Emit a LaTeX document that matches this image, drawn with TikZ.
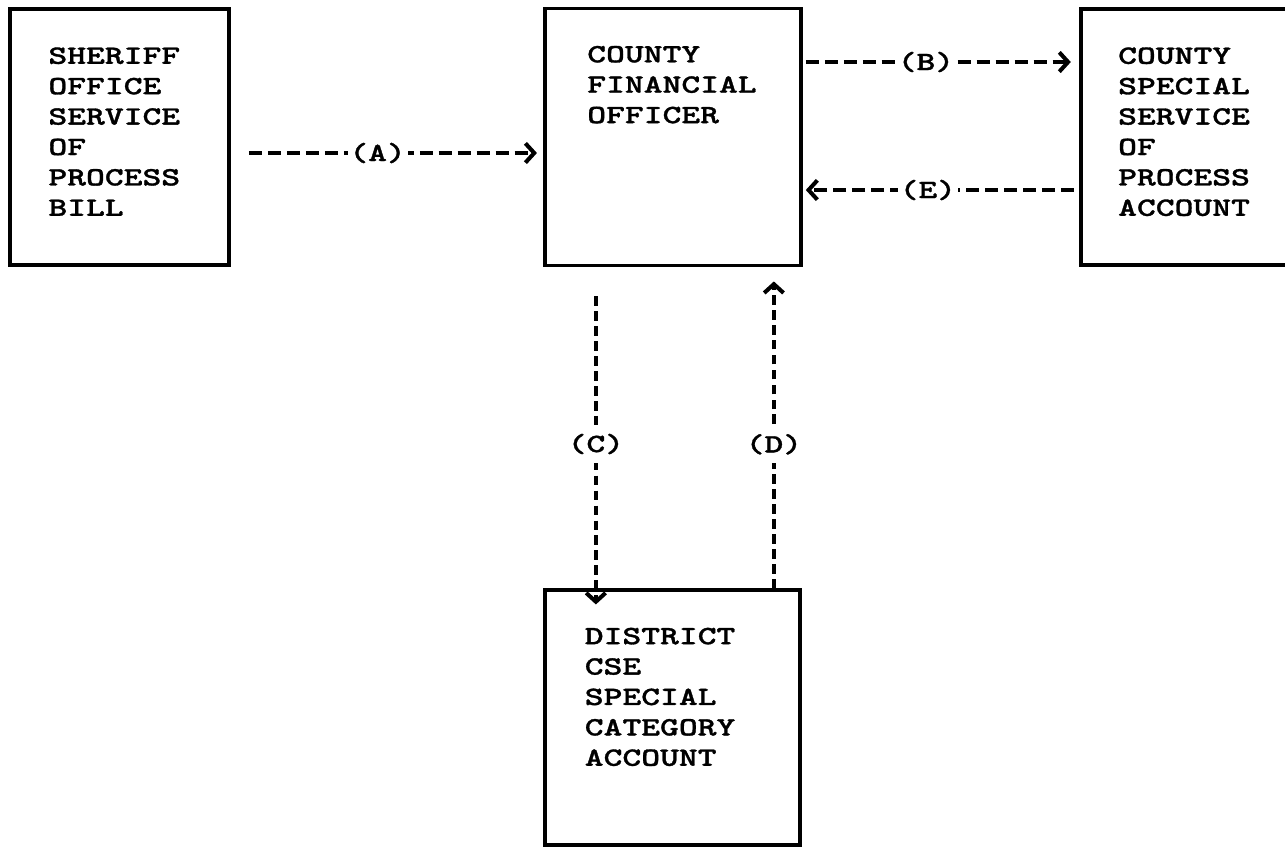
\documentclass[tikz,border=0pt]{standalone}
\usepackage{fontspec}
\newfontfamily\typew[FakeStretch=1.36,FakeBold=1.2]{lmmonolt10-bold.otf}
\usetikzlibrary{arrows.meta,positioning}

\begin{document}
\begin{tikzpicture}[
        node distance=4mm and 6mm,
        box/.style={draw,line width=2.2pt,inner sep=0pt},
        txt/.style={font=\typew\fontsize{15}{17.3}\selectfont,align=left,inner sep=0pt},
        lbl/.style={font=\typew\fontsize{15}{17.3}\selectfont,fill=white,inner xsep=1pt,inner ysep=1pt},
        vlbl/.style={lbl,inner xsep=0pt,inner ysep=5pt},
        flow/.style={-{Straight Barb[length=5pt,width=11pt]},line width=2.3pt,dash pattern=on 7.5pt off 3.3pt},
        vflow/.style={flow,dash pattern=on 5.5pt off 3pt}
      ]
      \useasboundingbox (0,0) rectangle (25.7,-16.94);

      \node[box,minimum width=4.38cm,minimum height=5.12cm] (sheriff) at (2.39,-2.74) {};
      \node[box,minimum width=5.12cm,minimum height=5.14cm,right=6.24cm of sheriff] (cfo) {};
      \node[box,minimum width=4.12cm,minimum height=5.12cm,right=5.52cm of cfo] (special) {};
      \node[box,minimum width=5.10cm,minimum height=5.10cm,below=6.42cm of cfo] (dist) {};

      \node[txt,below right=0.8cm and 0.8cm of sheriff.north west] (sheriffT)
      {SHERIFF\\OFFICE\\SERVICE\\OF\\PROCESS\\BILL};
      \node[txt,below right=0.78cm and 0.88cm of cfo.north west] (cfoT)
      {COUNTY\\FINANCIAL\\OFFICER};
      \node[txt,below right=0.8cm and 0.78cm of special.north west] (specialT)
      {COUNTY\\SPECIAL\\SERVICE\\OF\\PROCESS\\ACCOUNT};
      \node[txt,below right=0.78cm and 0.82cm of dist.north west] (distT)
      {DISTRICT\\CSE\\SPECIAL\\CATEGORY\\ACCOUNT};

      \draw[flow,shorten <=0.36cm,shorten >=0.12cm] ([yshift=-0.32cm]sheriff.east) -- ([yshift=-0.32cm]sheriff.east -| cfo.west) node[lbl,pos=0.47] {(A)};
      \draw[flow,shorten <=0.06cm,shorten >=0.16cm] ([yshift=1.5cm]cfo.east) -- ([yshift=1.5cm]cfo.east -| special.west) node[lbl,pos=0.446] {(B)};
      \draw[flow,shorten <=0.1cm,shorten >=0.06cm] ([yshift=-1.06cm]cfo.east -| special.west) -- ([yshift=-1.06cm]cfo.east) node[lbl,pos=0.547] {(E)};
      \draw[vflow,shorten <=0.58cm,shorten >=-0.32cm] ([xshift=-1.54cm]cfo.south) -- ([xshift=-1.54cm]cfo.south |- dist.north) node[vlbl,pos=0.55] {(C)};
      \draw[vflow,shorten >=0.28cm] ([xshift=2.02cm]cfo.south |- dist.north) -- ([xshift=2.02cm]cfo.south) node[vlbl,pos=0.449] {(D)};
    \end{tikzpicture}
\end{document}
